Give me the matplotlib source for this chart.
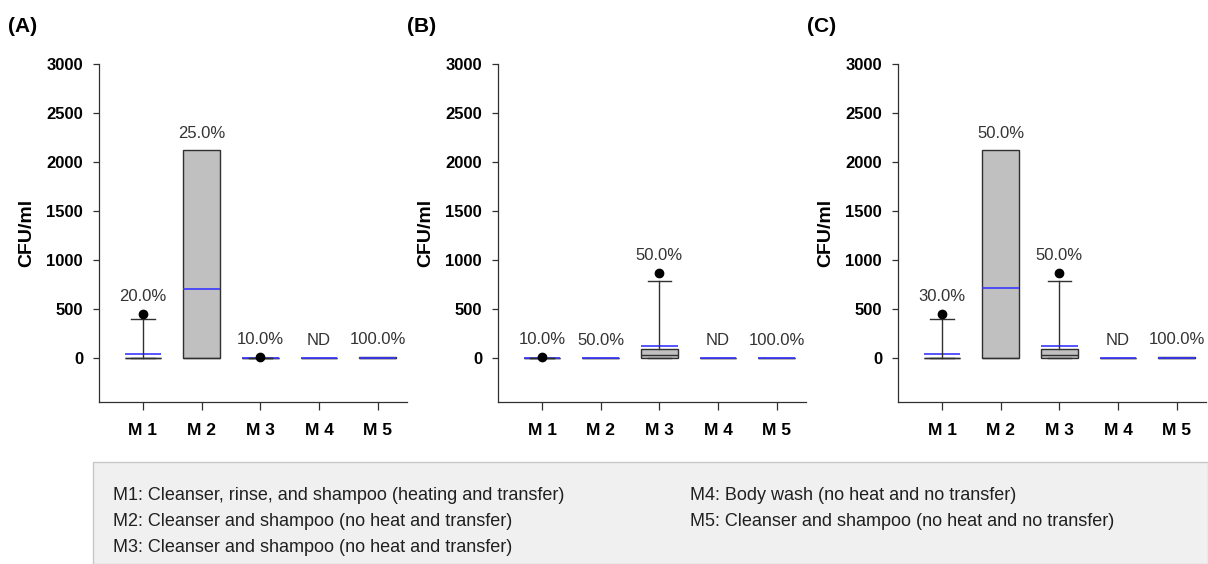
import matplotlib
matplotlib.use('Agg')
import matplotlib.pyplot as plt
from matplotlib import font_manager
from matplotlib.patches import Rectangle

# Groups (methods)
groups = ['M 1', 'M 2', 'M 3', 'M 4', 'M 5']

# Panel A
q1_A = [0, 0, 0, 0, 0]
q3_A = [0, 2120, 0, 0, 8]
med_A = [0, 0, 0, 0, 0]
mean_A = [45, 700, 0, 0, 4]
whishi_A = [400, 2120, 0, 0, 8]
fliers_A = [[450], [], [8], [], []]
pct_A = ['20.0%', '25.0%', '10.0%', 'ND', '100.0%']

# Panel B
q1_B = [0, 0, 0, 0, 0]
q3_B = [0, 0, 90, 0, 0]
med_B = [0, 0, 25, 0, 0]
mean_B = [0, 0, 120, 0, 0]
whishi_B = [0, 0, 790, 0, 0]
fliers_B = [[8], [], [870], [], []]
pct_B = ['10.0%', '50.0%', '50.0%', 'ND', '100.0%']

# Panel C
q1_C = [0, 0, 0, 0, 0]
q3_C = [0, 2120, 95, 0, 8]
med_C = [0, 0, 25, 0, 0]
mean_C = [45, 710, 120, 0, 4]
whishi_C = [400, 2120, 790, 0, 8]
fliers_C = [[450], [], [870], [], []]
pct_C = ['30.0%', '50.0%', '50.0%', 'ND', '100.0%']

panels = [
    ('(A)', q1_A, q3_A, med_A, mean_A, whishi_A, fliers_A, pct_A),
    ('(B)', q1_B, q3_B, med_B, mean_B, whishi_B, fliers_B, pct_B),
    ('(C)', q1_C, q3_C, med_C, mean_C, whishi_C, fliers_C, pct_C),
]

legend_col1 = ['M1: Cleanser, rinse, and shampoo (heating and transfer)',
               'M2: Cleanser and shampoo (no heat and transfer)',
               'M3: Cleanser and shampoo (no heat and transfer)']
legend_col2 = ['M4: Body wash (no heat and no transfer)',
               'M5: Cleanser and shampoo (no heat and no transfer)']

plt.rcParams['font.family'] = ['Liberation Sans', 'DejaVu Sans']
names = {f.name for f in font_manager.fontManager.ttflist}
narrow = 'Liberation Sans Narrow' if 'Liberation Sans Narrow' in names else 'Liberation Sans'

fig = plt.figure(figsize=(12.08, 5.64), dpi=100)

lefts = [99, 498, 898]
for (tag, q1, q3, med, mean, whi, fl, pct), lpx in zip(panels, lefts):
    ax = fig.add_axes([lpx / 1208, 162 / 564, 308 / 1208, 338 / 564])
    stats = []
    for i in range(5):
        stats.append(dict(q1=q1[i], q3=q3[i], med=med[i], mean=mean[i],
                          whislo=0, whishi=whi[i], fliers=fl[i]))
    capw = [0.4 if len(f) else 0.0 for f in fl]
    pos = list(range(1, 6))
    ax.bxp(stats, positions=pos, widths=0.62, capwidths=capw,
           showmeans=True, meanline=True, patch_artist=True,
           boxprops=dict(facecolor='#c0c0c0', edgecolor='#303030', linewidth=1.0, zorder=2),
           medianprops=dict(color='#303030', linewidth=1.0, zorder=2.1),
           meanprops=dict(color='#3838ff', linestyle='-', linewidth=1.2, zorder=2.2),
           whiskerprops=dict(color='#303030', linewidth=1.0, zorder=2.3),
           capprops=dict(color='#303030', linewidth=1.0, zorder=2.4),
           flierprops=dict(marker='o', markerfacecolor='black', markeredgecolor='black',
                           markersize=6, zorder=3))
    for i in range(5):
        top = max([q3[i], whi[i], mean[i]] + fl[i])
        ax.text(pos[i], top + 175, pct[i], ha='center', va='center',
                fontsize=12, color='#333333')
    ax.set_xlim(0.25, 5.5)
    ax.set_ylim(-450, 3000)
    ax.set_yticks([0, 500, 1000, 1500, 2000, 2500, 3000])
    ax.set_xticks(pos)
    ax.set_xticklabels(groups, fontsize=12.5, fontweight='bold')
    for t in ax.get_yticklabels():
        t.set_fontweight('bold')
        t.set_fontsize(12)
    ax.tick_params(axis='y', length=4.5, width=0.9, pad=7, colors='#303030', labelcolor='black')
    ax.tick_params(axis='x', length=6, width=0.9, pad=9, colors='#303030', labelcolor='black')
    ax.spines['top'].set_visible(False)
    ax.spines['right'].set_visible(False)
    for s in ('left', 'bottom'):
        ax.spines[s].set_color('#303030')
        ax.spines[s].set_linewidth(0.9)
    ax.set_ylabel('CFU/ml', fontsize=14, fontweight='bold', labelpad=8)
    fig.text((lpx - 91) / 1208, 1 - 27 / 564, tag, fontsize=15, fontweight='bold',
             ha='left', va='center')

# legend box
fig.patches.append(Rectangle((93 / 1208, 0), 1 - 93 / 1208, 102 / 564,
                             transform=fig.transFigure, facecolor='#f0f0f0',
                             edgecolor='#c8c8c8', linewidth=1.0, zorder=0))
ys = [495, 521, 547]
for txt, y in zip(legend_col1, ys):
    fig.text(113 / 1208, 1 - y / 564, txt, fontsize=13, family=narrow,
             ha='left', va='center', color='#202020')
for txt, y in zip(legend_col2, ys):
    fig.text(690 / 1208, 1 - y / 564, txt, fontsize=13, family=narrow,
             ha='left', va='center', color='#202020')

fig.savefig('out.png', dpi=100)
